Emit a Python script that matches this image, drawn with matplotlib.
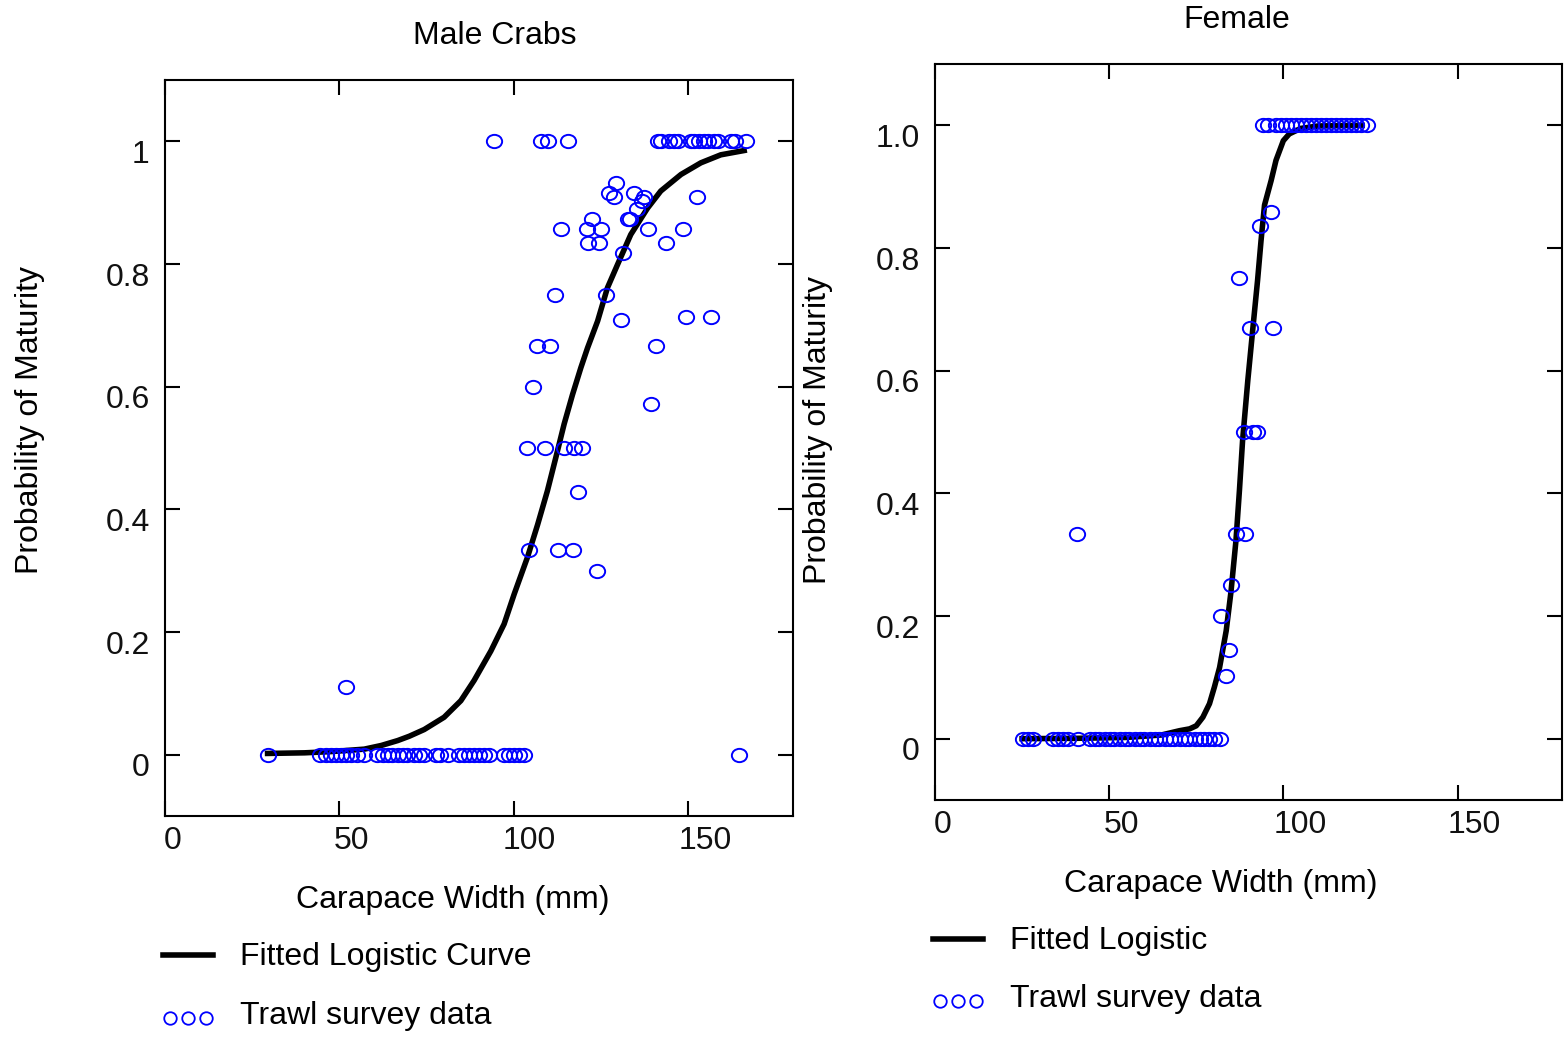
import matplotlib
matplotlib.use("Agg")
import matplotlib.pyplot as plt
import matplotlib.transforms as mtransforms
from matplotlib.lines import Line2D
from matplotlib.path import Path

plt.rcParams['font.family'] = ['Liberation Sans', 'DejaVu Sans']

# ---- male data ----
male_x0 = [29.6, 44.5, 46.1, 47.6, 49.0, 50.4, 51.9, 53.3, 55.0, 57.1, 60.9, 62.4, 63.8,
           65.2, 66.7, 68.1, 69.5, 71.4, 72.9, 74.3, 77.7, 78.9, 81.0, 84.3, 85.7, 87.2,
           88.6, 90.1, 91.5, 92.9, 97.2, 98.6, 100.0, 101.5, 102.9, 164.5]
male_x1 = [94.4, 107.7, 109.7, 115.6, 141.2, 142.1, 144.4, 145.8, 146.9, 150.7, 151.7,
           153.1, 154.4, 155.5, 157.4, 158.4, 162.2, 163.3, 166.5]
male_xm = [129.2, 127.3, 128.7, 134.3, 137.3, 136.7, 135.4, 132.6, 133.3, 152.6, 122.3,
           113.5, 120.9, 125.1, 138.3, 148.6, 121.3, 124.5, 143.6, 131.4, 111.7, 126.3,
           130.7, 149.3, 156.6, 106.5, 110.3, 140.7, 105.4, 139.4, 103.7, 108.9, 114.4,
           117.3, 119.4, 118.5, 104.2, 112.5, 116.9, 123.7, 51.9]
male_ym = [0.932, 0.916, 0.909, 0.916, 0.910, 0.902, 0.889, 0.873, 0.873, 0.909, 0.873,
           0.857, 0.857, 0.857, 0.857, 0.857, 0.834, 0.834, 0.834, 0.818, 0.750, 0.750,
           0.709, 0.714, 0.714, 0.667, 0.667, 0.667, 0.600, 0.571, 0.5, 0.5, 0.5,
           0.5, 0.5, 0.429, 0.333, 0.333, 0.333, 0.300, 0.111]
male_fit_x = [29.4, 40, 47.6, 57.1, 62, 66.7, 70, 74.3, 80.0, 84.8, 88.6, 93.4, 97.2, 100.1,
              103.9, 106.8, 109.6, 112.0, 114.4, 116.8, 119.2, 121.1, 124.0, 126.8, 129.7,
              133.5, 138.3, 142.1, 147.9, 153.6, 159.3, 166.0]
male_fit_y = [0.002, 0.003, 0.005, 0.009, 0.015, 0.023, 0.030, 0.041, 0.061, 0.088, 0.121,
              0.169, 0.213, 0.262, 0.322, 0.375, 0.430, 0.484, 0.539, 0.587, 0.631, 0.663,
              0.707, 0.761, 0.799, 0.848, 0.891, 0.919, 0.946, 0.965, 0.978, 0.985]

# ---- female data ----
fem_x0 = [25.3, 26.7, 28.2, 33.9, 35.3, 36.7, 38.2, 41.1, 44.4, 45.9, 47.2, 48.8, 50.1,
          51.5, 53.0, 54.5, 55.8, 57.3, 58.8, 60.1, 61.6, 63.1, 64.4, 65.9, 67.4, 68.7,
          70.2, 71.7, 73.0, 74.5, 76.0, 77.3, 78.8, 80.1, 81.7]
fem_x1 = [94.1, 95.5, 97.9, 99.3, 100.8, 102.2, 103.6, 105.1, 106.5, 107.9, 109.4, 110.8,
          112.3, 113.7, 115.1, 116.6, 118.0, 119.4, 120.9, 122.3, 124.0]
fem_xm = [40.7, 96.5, 93.3, 87.4, 90.5, 96.9, 88.8, 91.2, 92.5, 86.4, 89.1, 85.0, 82.1,
          84.3, 83.6]
fem_ym = [0.333, 0.859, 0.836, 0.751, 0.669, 0.669, 0.5, 0.5, 0.5, 0.333, 0.333, 0.251,
          0.2, 0.144, 0.102]
fem_fit_x = [25, 40, 55, 65, 70.2, 73.1, 75.0, 76.9, 78.8, 80.2, 81.7, 83.6, 85.0, 86.4,
             87.4, 88.3, 89.8, 91.2, 92.6, 93.6, 94.6, 96.5, 97.9, 100, 101.7, 105, 110,
             122.6]
fem_fit_y = [0.0, 0.0005, 0.002, 0.006, 0.013, 0.016, 0.021, 0.035, 0.057, 0.084, 0.116,
             0.176, 0.241, 0.323, 0.405, 0.486, 0.584, 0.666, 0.747, 0.812, 0.870, 0.910,
             0.943, 0.975, 0.986, 0.995, 0.999, 1.0]

yticks = [0, 0.2, 0.4, 0.6, 0.8, 1.0]
male_ylabels = ['0', '0.2', '0.4', '0.6', '0.8', '1']
fem_ylabels = ['0', '0.2', '0.4', '0.6', '0.8', '1.0']
xticks = [0, 50, 100, 150]

W, H = 1564, 1037
fig = plt.figure(figsize=(W / 100, H / 100), dpi=100)
fs = 23

# slightly wide open circle marker
circ = Path.unit_circle()
ell = Path(circ.vertices * [1.15, 1.0], circ.codes)


def px(x, y):
    return x / W, 1 - y / H


def setup(ax, ylabels, xshift):
    ax.set_xlim(0, 180)
    ax.set_ylim(-0.1, 1.1)
    ax.set_xticks(xticks)
    ax.set_yticks(yticks)
    ax.set_yticklabels(ylabels)
    ax.tick_params(direction='in', length=11, width=1.5, top=True, right=True,
                   labelsize=fs, labelcolor='#111111')
    ax.tick_params(axis='x', pad=7)
    ax.tick_params(axis='y', pad=11)
    for s in ax.spines.values():
        s.set_linewidth(1.5)
    # tick labels sit a bit off their ticks in the original
    for lab, sh in zip(ax.get_xticklabels(), xshift):
        dx = mtransforms.ScaledTranslation(sh / 100, 0, fig.dpi_scale_trans)
        lab.set_transform(lab.get_transform() + dx)
    dy = mtransforms.ScaledTranslation(0, -10 / 100, fig.dpi_scale_trans)
    for lab in ax.get_yticklabels():
        lab.set_transform(lab.get_transform() + dy)


def panel(ax, fx, fy, x0, x1, xm, ym):
    ax.plot(fx, fy, color='black', lw=4, zorder=2)
    kw = dict(marker=ell, ms=11, mfc='none', mec='blue', mew=1.4, ls='none', zorder=3)
    ax.plot(x0, [0] * len(x0), **kw)
    ax.plot(x1, [1] * len(x1), **kw)
    ax.plot(xm, ym, **kw)


ax1 = fig.add_axes([165 / W, 1 - 816 / H, 628 / W, 736 / H])
panel(ax1, male_fit_x, male_fit_y, male_x0, male_x1, male_xm, male_ym)
setup(ax1, male_ylabels, [8, 12, 15, 17])

ax2 = fig.add_axes([935 / W, 1 - 800 / H, 627 / W, 736 / H])
panel(ax2, fem_fit_x, fem_fit_y, fem_x0, fem_x1, fem_xm, fem_ym)
setup(ax2, fem_ylabels, [8, 12, 17, 17])

fig.text(*px(495, 36), 'Male Crabs', fontsize=fs, ha='center', va='center')
fig.text(*px(1237, 20), 'Female', fontsize=fs, ha='center', va='center')
fig.text(*px(453, 900), 'Carapace Width (mm)', fontsize=fs, ha='center', va='center')
fig.text(*px(1221, 884), 'Carapace Width (mm)', fontsize=fs, ha='center', va='center')
fig.text(*px(30, 420), 'Probability of Maturity', fontsize=fs, ha='center', va='center',
         rotation=90)
fig.text(*px(818, 430), 'Probability of Maturity', fontsize=fs, ha='center', va='center',
         rotation=90)

# hand-made legends
for (lx, ly_line, ly_mark, t1) in [(163, 955, 1018, 'Fitted Logistic Curve'),
                                    (933, 939, 1001, 'Fitted Logistic')]:
    x_a, y_a = px(lx, ly_line)
    x_b, _ = px(lx + 50, ly_line)
    fig.add_artist(Line2D([x_a, x_b], [y_a, y_a], color='black', lw=4,
                          transform=fig.transFigure))
    mx = [px(lx + 7 + 18 * i, ly_mark)[0] for i in range(3)]
    my = [px(0, ly_mark)[1]] * 3
    fig.add_artist(Line2D(mx, my, marker='o', ms=9, mfc='none', mec='blue', mew=1.3,
                          ls='none', transform=fig.transFigure))
    fig.text(*px(lx + 77, ly_line + 2), t1, fontsize=fs, ha='left', va='center')
    fig.text(*px(lx + 77, ly_mark - 2), 'Trawl survey data', fontsize=fs, ha='left',
             va='center')

fig.savefig('out.png', dpi=100)
